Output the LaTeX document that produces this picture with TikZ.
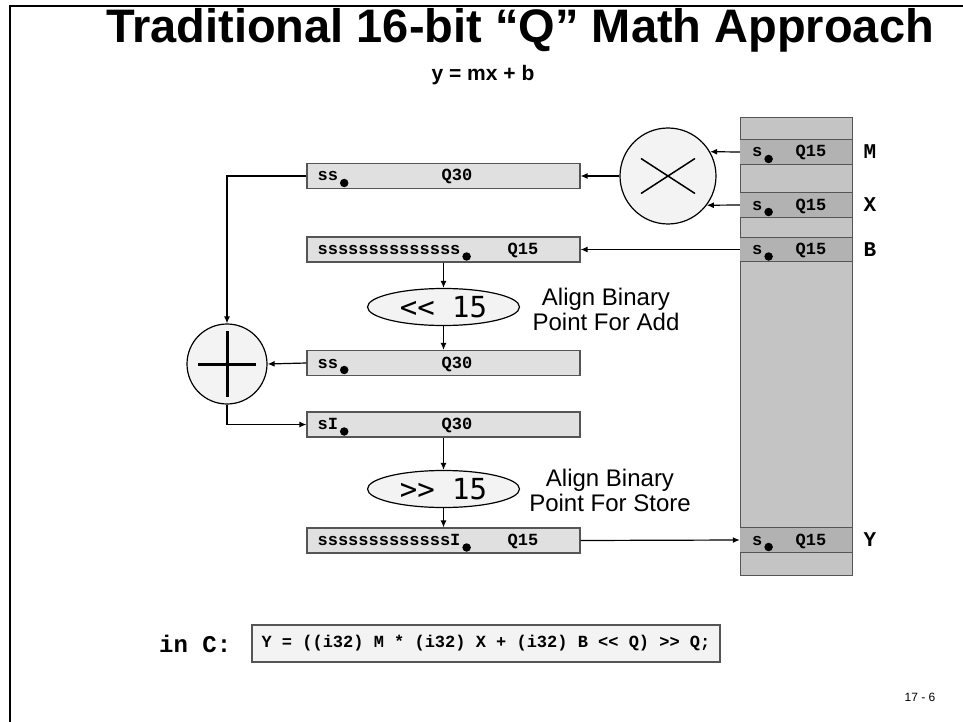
\documentclass[tikz,border=0pt]{standalone}
\usepackage{fontspec}
\setmainfont{Liberation Sans}
\setmonofont{Liberation Mono}
\newfontfamily\shiftfont{DejaVu Sans Mono}
\usetikzlibrary{arrows.meta,shapes.geometric,positioning}
\definecolor{regfill}{HTML}{E0E0E0}
\definecolor{memfill}{HTML}{C4C4C4}
\definecolor{rowfill}{HTML}{B2B2B2}
\definecolor{opfill}{HTML}{F3F3F3}
\definecolor{edge}{HTML}{555555}
\tikzset{
  reg/.style={draw=edge, fill=regfill, line width=1.2pt, minimum width=273pt, minimum height=25pt, inner sep=0pt},
  memrow/.style={fill=rowfill, minimum width=112pt, minimum height=24pt, inner sep=0pt},
  rowline/.style={draw=edge, line width=1.2pt},
  op/.style={draw, circle, fill=opfill, line width=1.2pt, minimum size=96pt, inner sep=0pt},
  shiftop/.style={draw, ellipse, fill=opfill, line width=1.2pt, minimum width=152pt, minimum height=37pt, inner sep=0pt, font=\shiftfont\fontsize{29}{29}\selectfont},
  bits/.style={font=\ttfamily\bfseries\fontsize{17}{17}\selectfont, anchor=base west, inner sep=0pt},
  qfmt/.style={font=\ttfamily\bfseries\fontsize{17}{17}\selectfont, anchor=base, inner sep=0pt},
  bpt/.style={circle, fill=black, minimum size=8.5pt, inner sep=0pt},
  varname/.style={font=\ttfamily\bfseries\fontsize{21}{21}\selectfont},
  note/.style={align=center, font=\fontsize{24}{25}\selectfont},
  flow/.style={-{Latex[length=7pt,width=6pt]}, line width=1.2pt},
}

\begin{document}
\begin{tikzpicture}[x=1pt, y=-1pt]
  \useasboundingbox (0,0) rectangle (963,722);
  \draw[line width=2pt] (10,722) -- (10,6) -- (963,6);

  % title
  \node[font=\bfseries\fontsize{47}{47}\selectfont] (title) at (520,30) {Traditional 16-bit “Q” Math Approach};
  \node[font=\bfseries\fontsize{21}{21}\selectfont] (eqn) at (483,75) {y = mx + b};

  % memory
  \node[fill=memfill, draw=edge, line width=1pt, minimum width=112pt, minimum height=457pt, inner sep=0pt] (mem) at (796,346.5) {};
  \foreach \nm/\y in {M/152,X/205,B/249.5,Y/540} {
    \node[memrow] (row\nm) at (796,\y) {};
    \draw[rowline] (row\nm.north west) -- (row\nm.north east);
    \draw[rowline] (row\nm.south west) -- (row\nm.south east);
    \node[bits] (s\nm) at (752,\y+5) {s};
    \node[bpt] at ([shift={(6,2)}]s\nm.base east) {};
    \node[qfmt] at (811,\y+5) {Q15};
    \node[varname] (lab\nm) at (870,\y) {\nm};
  }

  % registers
  \node[reg] (prod) at (443.5,176) {};
  \node[reg] (bext) at (443.5,249.5) {};
  \node[reg] (sum) at (443.5,363) {};
  \node[reg] (sumi) at (443.5,424.5) {};
  \node[reg] (res) at (443.5,540.5) {};
  \foreach \rg/\bt/\q/\qx in {prod/ss/Q30/457, bext/ssssssssssssss/Q15/523, sum/ss/Q30/457, sumi/sI/Q30/457, res/sssssssssssssI/Q15/523} {
    \node[bits] (t\rg) at ([shift={(11,5)}]\rg.west) {\bt};
    \node[bpt] at ([shift={(6,2)}]t\rg.base east) {};
    \node[qfmt] at (\qx,0 |- t\rg.base) {\q};
  }

  % operators
  \node[op] (mul) at (668,176) {};
  \draw[line width=1.5pt] (mul.center) ++(-27,-17.5) -- ++(54,35) (mul.center) ++(-27,17.5) -- ++(54,-35);
  \node[op, minimum size=80pt] (add) at (227,364) {};
  \draw[line width=3pt] (add.center) ++(0,-33) -- ++(0,66) (add.center) ++(-29,0) -- ++(58,0);
  \node[shiftop] (shl) at (443.5,307) {<< 15};
  \node[shiftop] (shr) at (443.5,489) {>> 15};
  \node[note] (noteadd) at (606,309) {Align Binary\\Point For Add};
  \node[note] (notestore) at (610,490) {Align Binary\\Point For Store};

  % connectors
  \draw[flow] (rowM.west) -- (mul.30);
  \draw[flow] (rowX.west) -- (mul.-37);
  \draw[flow] (mul.west) -- (prod.east);
  \draw[flow] (prod.west) -| (add.north);
  \draw[flow] (rowB.west) -- (bext.east);
  \draw[flow] (bext.south) -- (shl.north);
  \draw[flow] (shl.south) -- (sum.north);
  \draw[flow] (sum.west) -- (add.east);
  \draw[flow] (add.south) |- (sumi.west);
  \draw[flow] (sumi.south) -- (shr.north);
  \draw[flow] (shr.south) -- (res.north);
  \draw[flow] (res.east) -- (rowY.west);

  % C code
  \node[draw=edge, fill=opfill, line width=1.2pt, minimum width=468pt, minimum height=37pt, inner sep=0pt, font=\ttfamily\bfseries\fontsize{17}{17}\selectfont] (code) at (486,643.5) {Y = ((i32) M * (i32) X + (i32) B << Q) >> Q;};
  \node[left=20pt of code, inner sep=0pt, font=\ttfamily\bfseries\fontsize{24}{24}\selectfont] (inc) {in C:};

  \node[font=\fontsize{12}{12}\selectfont] (page) at (920,697) {17 - 6};
\end{tikzpicture}
\end{document}
